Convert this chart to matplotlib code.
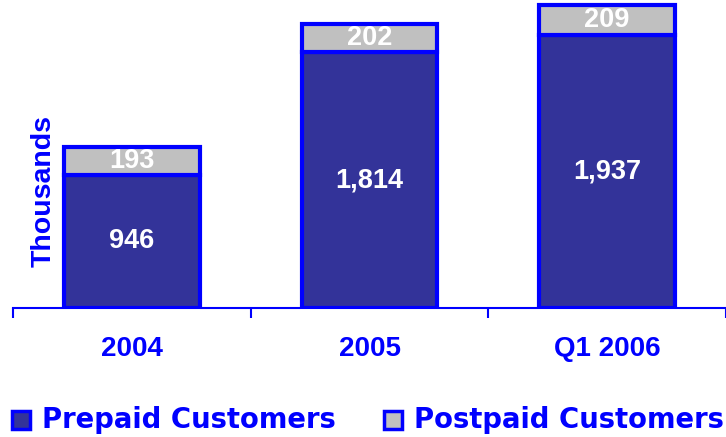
import matplotlib.pyplot as plt
from matplotlib.patches import Rectangle

# data (thousands of customers)
periods = ["2004", "2005", "Q1 2006"]
prepaid = [946, 1814, 1937]
postpaid = [193, 202, 209]
legend_names = ["Prepaid Customers", "Postpaid Customers"]

BLUE = "#0000FF"
NAVY = "#333399"
GREY = "#C0C0C0"

W, H = 726, 437
fig = plt.figure(figsize=(W / 100, H / 100), dpi=100)
ax = fig.add_axes([13 / W, 1 - 308 / H, 1 - 13 / W, 308 / H])

x = range(len(periods))
b1 = ax.bar(x, prepaid, width=0.57, color=NAVY, edgecolor=BLUE, linewidth=3)
b2 = ax.bar(x, postpaid, width=0.57, bottom=prepaid, color=GREY,
            edgecolor=BLUE, linewidth=3)

lbl = dict(label_type="center", color="white", fontsize=19.5,
           fontweight="bold", family="Liberation Sans")
ax.bar_label(b1, labels=[f"{v:,}" for v in prepaid], **lbl)
ax.bar_label(b2, labels=[f"{v:,}" for v in postpaid], **lbl)

ax.set_xlim(-0.5, 2.5)
ax.set_ylim(0, 2185)

# category labels sit between the separator ticks
ax.set_xticks([-0.5, 0.5, 1.5, 2.5])
ax.set_xticklabels([])
ax.tick_params(axis="x", which="major", direction="out", length=7,
               width=1.5, color=BLUE)
ax.set_xticks(list(x), minor=True)
ax.set_xticklabels(periods, minor=True, color=BLUE, fontsize=20,
                   fontweight="bold", family="Liberation Sans")
ax.tick_params(axis="x", which="minor", length=0, pad=20)

ax.set_yticks([])
for s in ["top", "right", "left"]:
    ax.spines[s].set_visible(False)
ax.spines["bottom"].set_color(BLUE)
ax.spines["bottom"].set_linewidth(1.5)

fig.text(44 / W, 1 - 191 / H, "Thousands", rotation=90, ha="center",
         va="center", color=BLUE, fontsize=20.5, fontweight="bold",
         family="Liberation Sans")

# legend drawn by hand: square marker + label
colors = [NAVY, GREY]
marker_x = [12, 384]
for name, c, mx in zip(legend_names, colors, marker_x):
    fig.patches.append(Rectangle((mx / W, 1 - 429 / H), 18 / W, 18 / H,
                                 transform=fig.transFigure, facecolor=c,
                                 edgecolor=BLUE, linewidth=2.5))
    fig.text((mx + 30) / W, 1 - 420 / H, name, ha="left", va="center",
             color=BLUE, fontsize=19.8, fontweight="bold",
             family="DejaVu Sans")

fig.savefig("out.png", dpi=100)
